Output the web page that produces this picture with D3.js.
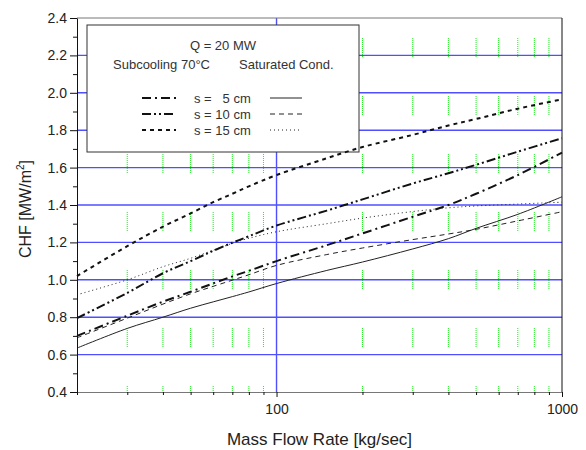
<!DOCTYPE html>
<html>
<head>
<meta charset="utf-8">
<script src="https://cdn.jsdelivr.net/npm/d3@7"></script>
<style>
  body { margin: 0; background: #fff; }
  text { font-family: "Liberation Sans", Arial, sans-serif; }
</style>
</head>
<body>
<script>
// Data (CHF in MW/m2 vs mass flow rate in kg/sec)
const massFlow = [20, 30, 40, 50, 60, 70, 80, 100, 150, 200, 300, 400, 500, 700, 1000];
const sub5  = [0.700, 0.808, 0.883, 0.936, 0.981, 1.018, 1.048, 1.100, 1.185, 1.248, 1.337, 1.400, 1.460, 1.560, 1.680];
const sub10 = [0.795, 0.930, 1.035, 1.100, 1.155, 1.198, 1.233, 1.290, 1.370, 1.430, 1.515, 1.570, 1.615, 1.685, 1.757];
const sub15 = [1.020, 1.180, 1.284, 1.355, 1.415, 1.460, 1.500, 1.560, 1.650, 1.710, 1.775, 1.825, 1.860, 1.915, 1.965];
const sat5  = [0.635, 0.740, 0.800, 0.848, 0.882, 0.910, 0.935, 0.980, 1.050, 1.095, 1.165, 1.220, 1.275, 1.350, 1.444];
const sat10 = [0.690, 0.795, 0.870, 0.925, 0.965, 0.998, 1.027, 1.077, 1.135, 1.170, 1.215, 1.245, 1.270, 1.315, 1.364];
const sat15 = [0.920, 1.000, 1.070, 1.115, 1.158, 1.195, 1.222, 1.257, 1.300, 1.330, 1.365, 1.385, 1.395, 1.405, 1.415];

const yMajor = [0.4, 0.6, 0.8, 1.0, 1.2, 1.4, 1.6, 1.8, 2.0, 2.2, 2.4];
const yMinor = [0.5, 0.7, 0.9, 1.1, 1.3, 1.5, 1.7, 1.9, 2.1, 2.3];
const xMajor = [100, 1000];
const xMinor = [20, 30, 40, 50, 60, 70, 80, 90, 200, 300, 400, 500, 600, 700, 800, 900];
const xGridMinor = [30, 40, 50, 60, 70, 80, 90, 200, 300, 400, 500, 600, 700, 800, 900];

const seriesLabels = ["s =   5 cm", "s = 10 cm", "s = 15 cm"];

const width = 586, height = 450;
const margin = { top: 18, right: 24, bottom: 58, left: 77 };

// line styles: subcooling (thick, broken) and saturated (thin)
const subStyles = [
  { data: sub5,  dash: "9,4,2,4" },
  { data: sub10, dash: "9,3,2,3,2,3" },
  { data: sub15, dash: "4,4" }
];
const satStyles = [
  { data: sat5,  dash: null },
  { data: sat10, dash: "5,4" },
  { data: sat15, dash: "1,3" }
];

const svg = d3.select("body").append("svg")
  .attr("width", width)
  .attr("height", height);

const x = d3.scaleLog()
  .domain([20, 1000])
  .range([margin.left, width - margin.right]);

const y = d3.scaleLinear()
  .domain([0.4, 2.4])
  .range([height - margin.bottom, margin.top]);

// green dotted minor grid (short dotted segments)
const dotted = Array(9).fill("1,1").join(",") + ",1,39";
svg.append("g")
  .selectAll("line")
  .data(xGridMinor)
  .join("line")
  .attr("x1", d => x(d))
  .attr("x2", d => x(d))
  .attr("y1", margin.top + 20)
  .attr("y2", height - margin.bottom)
  .attr("stroke", "#22ee22")
  .attr("stroke-width", 1)
  .attr("stroke-dasharray", dotted);

// blue major grid
svg.append("g")
  .selectAll("line")
  .data(yMajor.slice(1, -1))
  .join("line")
  .attr("x1", margin.left)
  .attr("x2", width - margin.right)
  .attr("y1", d => y(d))
  .attr("y2", d => y(d))
  .attr("stroke", "#4f4fff")
  .attr("stroke-width", 1.4);

svg.append("line")
  .attr("x1", x(100)).attr("x2", x(100))
  .attr("y1", margin.top).attr("y2", height - margin.bottom)
  .attr("stroke", "#4f4fff")
  .attr("stroke-width", 1.4);

// legend box (covers the grid)
const legend = svg.append("g");
legend.append("rect")
  .attr("x", 87).attr("y", 25)
  .attr("width", 272).attr("height", 127)
  .attr("fill", "#fff")
  .attr("stroke", "#333")
  .attr("stroke-width", 1);

// curves
const line = d3.line()
  .x((d, i) => x(massFlow[i]))
  .y(d => y(d))
  .curve(d3.curveCatmullRom.alpha(0.5));

svg.append("g")
  .selectAll("path")
  .data(satStyles)
  .join("path")
  .attr("d", d => line(d.data))
  .attr("fill", "none")
  .attr("stroke", "#222")
  .attr("stroke-width", 1)
  .attr("stroke-dasharray", d => d.dash);

svg.append("g")
  .selectAll("path")
  .data(subStyles)
  .join("path")
  .attr("d", d => line(d.data))
  .attr("fill", "none")
  .attr("stroke", "#111")
  .attr("stroke-width", 2)
  .attr("stroke-dasharray", d => d.dash);

// legend content
legend.append("text")
  .attr("x", 223).attr("y", 50)
  .attr("text-anchor", "middle")
  .attr("font-size", 13)
  .attr("fill", "#333")
  .text("Q = 20 MW");

legend.append("text")
  .attr("x", 113).attr("y", 69)
  .attr("font-size", 13)
  .attr("fill", "#333")
  .text("Subcooling 70°C");

legend.append("text")
  .attr("x", 239).attr("y", 69)
  .attr("font-size", 13)
  .attr("fill", "#333")
  .text("Saturated Cond.");

seriesLabels.forEach((label, i) => {
  const ly = 98 + i * 16;
  legend.append("line")
    .attr("x1", 142).attr("x2", 176)
    .attr("y1", ly).attr("y2", ly)
    .attr("stroke", "#111")
    .attr("stroke-width", 2)
    .attr("stroke-dasharray", subStyles[i].dash);
  legend.append("text")
    .attr("x", 194).attr("y", ly + 5)
    .attr("font-size", 13)
    .attr("fill", "#333")
    .style("white-space", "pre")
    .text(label);
  legend.append("line")
    .attr("x1", 270).attr("x2", 302)
    .attr("y1", ly).attr("y2", ly)
    .attr("stroke", "#222")
    .attr("stroke-width", 1)
    .attr("stroke-dasharray", satStyles[i].dash);
});

// frame
svg.append("line")
  .attr("x1", margin.left).attr("x2", width - margin.right)
  .attr("y1", margin.top).attr("y2", margin.top)
  .attr("stroke", "#777");
svg.append("line")
  .attr("x1", width - margin.right).attr("x2", width - margin.right)
  .attr("y1", margin.top).attr("y2", height - margin.bottom)
  .attr("stroke", "#111");

// axes
const yAxis = svg.append("g")
  .attr("transform", `translate(${margin.left},0)`)
  .call(d3.axisLeft(y).tickValues(yMajor).tickSize(7).tickSizeOuter(0).tickPadding(3).tickFormat(d3.format(".1f")));
svg.append("g")
  .attr("transform", `translate(${margin.left},0)`)
  .call(d3.axisLeft(y).tickValues(yMinor).tickSize(4).tickSizeOuter(0).tickFormat(""))
  .select(".domain").remove();

const xAxis = svg.append("g")
  .attr("transform", `translate(0,${height - margin.bottom})`)
  .call(d3.axisBottom(x).tickValues(xMajor).tickSize(5).tickSizeOuter(0).tickPadding(7).tickFormat(d3.format("d")));
svg.append("g")
  .attr("transform", `translate(0,${height - margin.bottom})`)
  .call(d3.axisBottom(x).tickValues(xMinor).tickSize(3).tickSizeOuter(0).tickFormat(""))
  .select(".domain").remove();

svg.selectAll(".tick line").attr("stroke", "#111");
yAxis.select(".domain").attr("stroke", "#111");
xAxis.select(".domain").attr("stroke", "#777");
svg.selectAll(".tick text")
  .attr("font-size", 14)
  .attr("font-family", "'Liberation Sans', Arial, sans-serif")
  .attr("fill", "#222");

// axis titles
svg.append("text")
  .attr("x", (margin.left + width - margin.right) / 2)
  .attr("y", 445)
  .attr("text-anchor", "middle")
  .attr("font-size", 17)
  .attr("fill", "#222")
  .text("Mass Flow Rate [kg/sec]");

const yTitle = svg.append("text")
  .attr("transform", "translate(31,209) rotate(-90)")
  .attr("text-anchor", "middle")
  .attr("font-size", 16)
  .attr("fill", "#222");
yTitle.append("tspan").text("CHF [MW/m");
yTitle.append("tspan").attr("font-size", 10).attr("dy", -7).text("2");
yTitle.append("tspan").attr("dy", 7).text("]");
</script>
</body>
</html>
